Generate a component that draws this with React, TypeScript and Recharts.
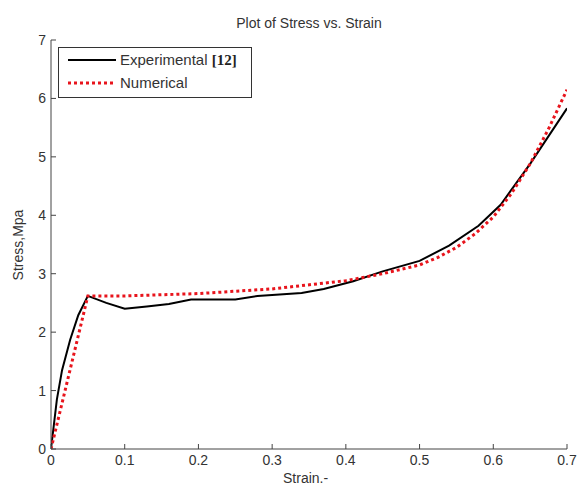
import { LineChart, Line, XAxis, YAxis } from "recharts"

const strainTicks = [0, 0.1, 0.2, 0.3, 0.4, 0.5, 0.6, 0.7]
const stressTicks = [0, 1, 2, 3, 4, 5, 6, 7]

const experimental = [
  { strain: 0, stress: 0 },
  { strain: 0.008, stress: 0.85 },
  { strain: 0.015, stress: 1.35 },
  { strain: 0.026, stress: 1.87 },
  { strain: 0.037, stress: 2.29 },
  { strain: 0.05, stress: 2.62 },
  { strain: 0.075, stress: 2.5 },
  { strain: 0.1, stress: 2.4 },
  { strain: 0.13, stress: 2.44 },
  { strain: 0.16, stress: 2.48 },
  { strain: 0.19, stress: 2.56 },
  { strain: 0.25, stress: 2.56 },
  { strain: 0.28, stress: 2.62 },
  { strain: 0.34, stress: 2.67 },
  { strain: 0.37, stress: 2.74 },
  { strain: 0.41, stress: 2.87 },
  { strain: 0.45, stress: 3.04 },
  { strain: 0.5, stress: 3.22 },
  { strain: 0.54, stress: 3.48 },
  { strain: 0.58, stress: 3.82 },
  { strain: 0.61, stress: 4.18 },
  { strain: 0.65, stress: 4.88 },
  { strain: 0.7, stress: 5.83 },
]

const numerical = [
  { strain: 0, stress: 0 },
  { strain: 0.05, stress: 2.62 },
  { strain: 0.1, stress: 2.62 },
  { strain: 0.2, stress: 2.66 },
  { strain: 0.3, stress: 2.74 },
  { strain: 0.4, stress: 2.88 },
  { strain: 0.45, stress: 3.0 },
  { strain: 0.5, stress: 3.15 },
  { strain: 0.525, stress: 3.28 },
  { strain: 0.55, stress: 3.45 },
  { strain: 0.575, stress: 3.68 },
  { strain: 0.6, stress: 3.97 },
  { strain: 0.625, stress: 4.38 },
  { strain: 0.65, stress: 4.88 },
  { strain: 0.675, stress: 5.48 },
  { strain: 0.7, stress: 6.15 },
]

const font = "'Liberation Sans', Arial, sans-serif"
const axisColor = "#444"
const tickStyle = { fill: "#333", fontSize: 14, fontFamily: font }

function LegendBox() {
  return (
    <svg width={194} height={52} style={{ display: "block" }}>
      <rect x={0.5} y={0.5} width={193} height={50} fill="#fff" stroke="#333" strokeWidth={1} />
      <line x1={10} y1={13} x2={58} y2={13} stroke="#000" strokeWidth={2} />
      <text x={62} y={18} fontSize={15} fontFamily={font} fill="#333">
        Experimental <tspan fontFamily="'Liberation Serif', serif" fontWeight="bold" fill="#222">[12]</tspan>
      </text>
      <line x1={10} y1={36} x2={58} y2={36} stroke="#e8141c" strokeWidth={3} strokeDasharray="3 3" />
      <text x={62} y={41} fontSize={15} fontFamily={font} fill="#333">Numerical</text>
    </svg>
  )
}

export default function App() {
  return (
    <div style={{ position: "absolute", left: 0, top: 0, width: 580, height: 488, background: "#fff" }}>
      <LineChart width={580} height={488} margin={{ top: 40, right: 13, left: 0, bottom: 0 }}>
        <XAxis
          xAxisId="b"
          type="number"
          dataKey="strain"
          domain={[0, 0.7]}
          ticks={strainTicks}
          height={39}
          stroke={axisColor}
          tickSize={-5}
          tickMargin={11}
          tick={tickStyle}
          allowDataOverflow
        />
        <XAxis
          xAxisId="t"
          orientation="top"
          type="number"
          dataKey="strain"
          domain={[0, 0.7]}
          ticks={strainTicks}
          height={0}
          stroke={axisColor}
          tickSize={-5}
          tick={false}
        />
        <YAxis
          yAxisId="l"
          type="number"
          domain={[0, 7]}
          ticks={stressTicks}
          width={51}
          stroke={axisColor}
          tickSize={-5}
          tickMargin={10}
          tick={tickStyle}
        />
        <YAxis
          yAxisId="r"
          orientation="right"
          type="number"
          domain={[0, 7]}
          ticks={stressTicks}
          width={0}
          stroke={axisColor}
          tickSize={-5}
          tick={false}
        />
        <Line
          xAxisId="b"
          yAxisId="l"
          data={experimental}
          dataKey="stress"
          type="linear"
          stroke="#000"
          strokeWidth={2}
          dot={false}
          isAnimationActive={false}
        />
        <Line
          xAxisId="b"
          yAxisId="l"
          data={numerical}
          dataKey="stress"
          type="linear"
          stroke="#e8141c"
          strokeWidth={3}
          strokeDasharray="3 3"
          dot={false}
          isAnimationActive={false}
        />
      </LineChart>
      <div style={{ position: "absolute", left: 58, top: 47 }}>
        <LegendBox />
      </div>
      <div style={{ position: "absolute", left: 209, top: 15, width: 200, textAlign: "center", fontFamily: font, fontSize: 14, color: "#333" }}>
        Plot of Stress vs. Strain
      </div>
      <div style={{ position: "absolute", left: 283, top: 470, fontFamily: font, fontSize: 14, color: "#333" }}>Strain.-</div>
      <div style={{ position: "absolute", left: 18, top: 245, transform: "translate(-50%, -50%) rotate(-90deg)", fontFamily: font, fontSize: 14, color: "#333", whiteSpace: "nowrap" }}>
        Stress,Mpa
      </div>
    </div>
  )
}
